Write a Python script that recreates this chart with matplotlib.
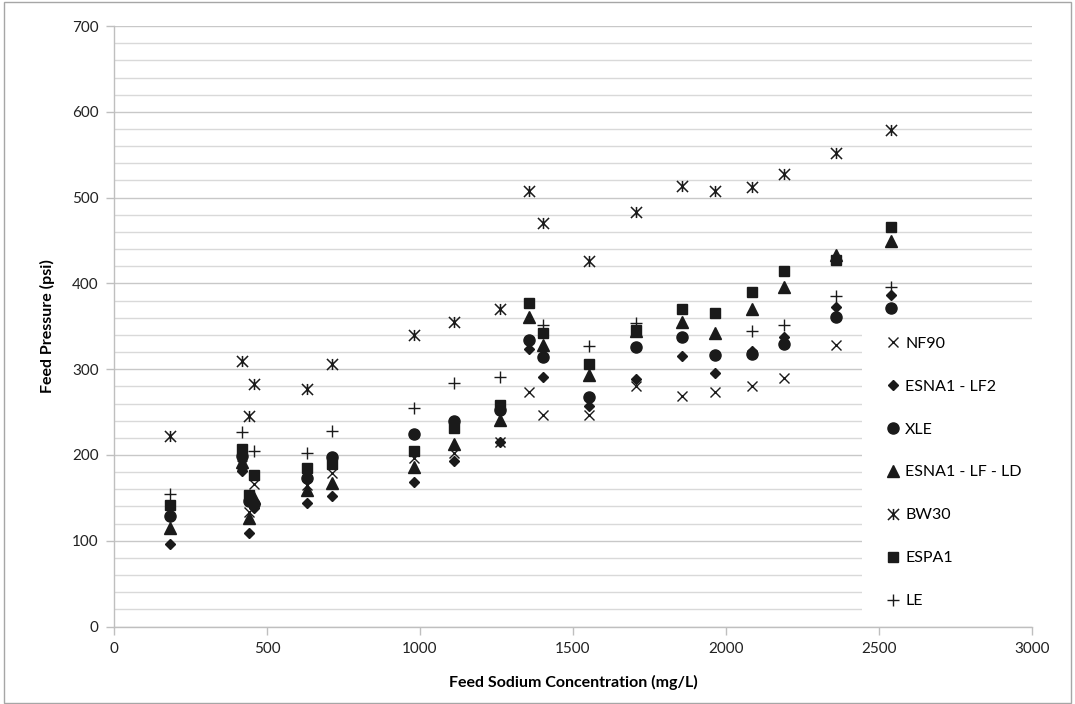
import matplotlib
matplotlib.use("Agg")
import matplotlib.pyplot as plt
from matplotlib.path import Path
from matplotlib.patches import Rectangle
from matplotlib.ticker import MultipleLocator

plt.rcParams['font.family'] = ['Lato', 'DejaVu Sans']

# feed sodium concentration (mg/L) and feed pressure (psi) per membrane
nf90_x = [417, 442, 458, 630, 713, 980, 1111, 1261, 1356, 1402, 1553, 1705, 1855, 1964, 2085, 2190, 2360]
nf90_y = [188, 133, 166, 165, 179, 196, 202, 215, 273, 247, 247, 280, 269, 274, 280, 290, 328]

lf2_x = [183, 417, 442, 458, 630, 713, 980, 1111, 1261, 1356, 1402, 1553, 1705, 1855, 1964, 2085, 2190, 2360, 2540]
lf2_y = [96, 181, 109, 138, 144, 152, 169, 193, 215, 323, 291, 257, 288, 315, 296, 321, 338, 373, 387]

xle_x = [183, 417, 442, 458, 630, 713, 980, 1111, 1261, 1356, 1402, 1553, 1705, 1855, 1964, 2085, 2190, 2360, 2540]
xle_y = [129, 199, 146, 143, 173, 198, 225, 240, 252, 334, 314, 268, 326, 338, 316, 318, 329, 361, 371]

ld_x = [183, 417, 442, 458, 630, 713, 980, 1111, 1261, 1356, 1402, 1553, 1705, 1855, 1964, 2085, 2190, 2360, 2540]
ld_y = [115, 192, 127, 150, 159, 167, 186, 213, 241, 361, 328, 293, 345, 355, 342, 370, 396, 433, 450]

bw30_x = [183, 417, 442, 458, 630, 713, 980, 1111, 1261, 1356, 1402, 1553, 1705, 1855, 1964, 2085, 2190, 2360, 2540]
bw30_y = [222, 309, 246, 283, 277, 306, 340, 355, 370, 508, 471, 426, 483, 513, 508, 512, 527, 552, 579]

espa1_x = [183, 417, 442, 458, 630, 713, 980, 1111, 1261, 1356, 1402, 1553, 1705, 1855, 1964, 2085, 2190, 2360, 2540]
espa1_y = [142, 207, 153, 177, 185, 190, 205, 232, 258, 377, 342, 306, 346, 370, 365, 390, 414, 427, 466]

le_x = [183, 417, 458, 630, 713, 980, 1111, 1261, 1402, 1553, 1705, 2085, 2190, 2360, 2540]
le_y = [155, 227, 205, 202, 228, 255, 284, 291, 351, 327, 354, 345, 352, 385, 396]

# excel style asterisk: an x with a vertical bar
star = Path([(-1, -1), (1, 1), (-1, 1), (1, -1), (0, -1), (0, 1)],
            [Path.MOVETO, Path.LINETO] * 3)

ink = '#1a1a1a'
grid_c = '#d9d9d9'
axis_c = '#bfbfbf'

fig = plt.figure(figsize=(10.75, 7.04), dpi=100)
ax = fig.add_axes([0.106, 0.11, 0.854, 0.853])

ax.plot(nf90_x, nf90_y, ls='none', marker='x', ms=7, mew=1.0, color=ink, label='NF90', zorder=3)
ax.plot(lf2_x, lf2_y, ls='none', marker='D', ms=5.5, color=ink, label='ESNA1 - LF2', zorder=3)
ax.plot(xle_x, xle_y, ls='none', marker='o', ms=8, color=ink, label='XLE', zorder=3)
ax.plot(ld_x, ld_y, ls='none', marker='^', ms=8, color=ink, label='ESNA1 - LF - LD', zorder=3)
ax.plot(bw30_x, bw30_y, ls='none', marker=star, ms=8, mew=1.1, color=ink, mfc='none', label='BW30', zorder=3)
ax.plot(espa1_x, espa1_y, ls='none', marker='s', ms=7.5, color=ink, label='ESPA1', zorder=3)
ax.plot(le_x, le_y, ls='none', marker='+', ms=9, mew=1.0, color=ink, label='LE', zorder=3)

ax.set_xlim(0, 3000)
ax.set_ylim(0, 700)
ax.xaxis.set_major_locator(MultipleLocator(500))
ax.yaxis.set_major_locator(MultipleLocator(100))
ax.yaxis.set_minor_locator(MultipleLocator(20))
ax.grid(axis='y', which='major', color='#c8c8c8', lw=1.0)
ax.grid(axis='y', which='minor', color=grid_c, lw=1.0)
ax.set_axisbelow(True)

for s in ['top', 'right']:
    ax.spines[s].set_visible(False)
for s in ['left', 'bottom']:
    ax.spines[s].set_color(axis_c)
    ax.spines[s].set_linewidth(1.0)

ax.tick_params(axis='both', which='major', direction='out', length=6, width=1,
               color=axis_c, labelsize=11, labelcolor='#222222', pad=5)
ax.tick_params(axis='y', which='minor', length=0)

ax.set_xlabel('Feed Sodium Concentration (mg/L)', fontsize=11.5, fontweight='bold', labelpad=14)
ax.set_ylabel('Feed Pressure (psi)', fontsize=11.5, fontweight='bold', labelpad=12)

# white legend area that hides the gridlines behind it
ax.add_patch(Rectangle((0.815, 0.003), 0.185, 0.504, transform=ax.transAxes,
                       facecolor='white', edgecolor='none', zorder=1))

leg = ax.legend(loc='upper left', bbox_to_anchor=(0.842, 0.483), frameon=False,
                fontsize=11.5, labelspacing=1.8, handlelength=0.7, handletextpad=0.45,
                borderpad=0.0, borderaxespad=0.0)

# chart area border
fig.patches.append(Rectangle((0.004, 0.002), 0.992, 0.995, transform=fig.transFigure,
                             fill=False, edgecolor='#a6a6a6', lw=1.0))

fig.savefig('out.png', dpi=100)
